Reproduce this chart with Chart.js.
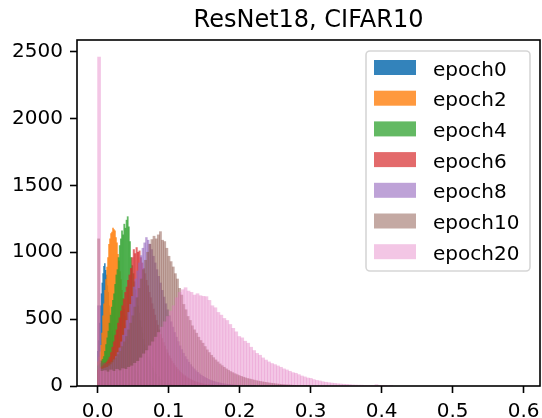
<!DOCTYPE html>
<html>
<head>
<meta charset="utf-8">
<script src="https://cdn.jsdelivr.net/npm/chart.js@4.4.1/dist/chart.umd.min.js"></script>
<style>
  html, body { margin: 0; padding: 0; background: #fff; }
</style>
</head>
<body>
<canvas id="chart" width="542" height="418"></canvas>
<script>
// ---------------- DATA ----------------
const titleText = "ResNet18, CIFAR10";
const labels = ["epoch0", "epoch2", "epoch4", "epoch6", "epoch8", "epoch10", "epoch20"];

// each histogram starts at 0, one bin width per series
const binWidths = [0.0012, 0.0014, 0.0016, 0.002, 0.0025, 0.003, 0.0042];

const epoch0 = [260,340,470,600,690,770,840,895,915,865,830,750,700,600,545,465,410,345,305,250,220,180,165,132,121,98,90,74,65,54,48,39,35,28,25,20,18,15,12,10,9,7,6,5,4,4,3,3,2,2,1,1];
const epoch2 = [180,215,255,305,395,525,615,715,795,890,960,1060,1100,1140,1150,1180,1170,1160,1110,1070,985,935,855,795,715,655,575,525,455,410,350,312,268,237,203,180,153,136,114,101,86,76,63,56,46,40,34,29,25,21,18,15,13,11,9,8,7,6,5,4,3,3,2,2,1,1];
const epoch4 = [150,160,170,185,200,220,260,310,360,410,470,530,590,640,690,760,830,870,960,1050,1100,1160,1130,1210,1180,1240,1266,1190,1080,960,900,840,780,720,660,600,545,490,440,395,350,310,275,245,215,190,168,148,130,114,100,88,77,67,58,50,43,37,32,27,23,20,17,14,12,10,8,7,6,5,4,3,3,2,2,1,1];
const epoch6 = [120,130,140,150,160,170,180,195,215,250,290,330,380,420,470,510,560,600,650,700,740,790,830,880,960,1020,990,1035,1000,1010,960,920,880,840,790,750,700,660,615,575,530,490,455,420,385,355,325,298,272,248,226,205,186,169,153,139,126,114,103,93,84,76,68,61,55,49,44,39,35,31,27,24,21,18,16,14,12,10,9,8,7,6,5,4,3,3,2,2,1,1];
const epoch8 = [600,130,125,130,135,140,150,160,175,195,220,250,285,330,380,430,490,550,610,670,740,800,860,920,975,1030,1070,1110,1090,1060,1020,970,920,870,820,770,715,665,615,570,525,480,440,400,365,332,300,272,245,220,198,178,160,143,128,114,102,91,81,72,64,57,50,44,39,35,31,27,24,21,18,16,14,12,10,9,8,7,6,5,4,4,3,3,2,2,1,1,1];
const epoch10 = [1100,190,175,170,165,170,180,195,210,235,260,295,330,370,420,470,525,590,660,730,800,870,940,1000,1060,1095,1120,1100,1130,1154,1090,1080,1030,970,930,890,840,800,730,680,610,570,520,490,450,420,395,365,340,320,295,270,250,230,212,195,180,165,152,140,128,118,108,100,92,85,78,72,66,61,56,52,48,44,40,37,34,31,28,26,23,21,19,17,15,13,12,10,9,8,7,6,5,4,4,3,2,2,1,1];
const epoch20 = [2460,110,115,105,120,110,125,115,130,125,140,150,170,185,210,240,265,300,330,365,400,440,480,520,560,600,660,700,720,735,710,700,680,690,675,670,668,640,600,585,550,530,505,490,460,431,405,370,360,335,320,290,265,244,230,210,194,180,168,160,150,140,128,120,110,100,95,85,75,68,60,57,48,42,38,32,28,25,22,20,17,15,13,12,10,8,7,6,6,5,4,3,3,10,2,1,1,0,1];

const counts = [epoch0, epoch2, epoch4, epoch6, epoch8, epoch10, epoch20];

const xTicks = [0, 0.1, 0.2, 0.3, 0.4, 0.5, 0.6];
const yTicks = [0, 500, 1000, 1500, 2000, 2500];

// tab10 colours, alpha as seen in the legend
const colors = [
  "rgba(31,119,180,0.91)",
  "rgba(255,127,14,0.80)",
  "rgba(44,160,44,0.74)",
  "rgba(214,39,40,0.69)",
  "rgba(148,103,189,0.61)",
  "rgba(140,86,75,0.51)",
  "rgba(227,119,194,0.42)"
];

// ---------------- PLUGINS ----------------
const frame = {
  id: "frame",
  afterDatasetsDraw(chart) {
    const { ctx, chartArea: a } = chart;
    ctx.save();
    ctx.strokeStyle = "#000";
    ctx.lineWidth = 1.6;
    ctx.strokeRect(a.left, a.top, a.right - a.left, a.bottom - a.top);
    ctx.restore();
  }
};

const topTitle = {
  id: "topTitle",
  afterDraw(chart) {
    const { ctx, chartArea: a } = chart;
    ctx.save();
    ctx.font = '24px "DejaVu Sans"';
    ctx.textAlign = "center";
    ctx.textBaseline = "alphabetic";
    ctx.fillStyle = "#000";
    ctx.fillText(titleText, (a.left + a.right) / 2, a.top - 13);
    ctx.restore();
  }
};

const boxLegend = {
  id: "boxLegend",
  afterDraw(chart) {
    const { ctx, chartArea: a } = chart;
    const x0 = a.right - 174, y0 = a.top + 11;
    ctx.save();
    ctx.beginPath();
    ctx.roundRect(x0, y0, 164, 220, 4);
    ctx.fillStyle = "rgba(255,255,255,0.8)";
    ctx.fill();
    ctx.strokeStyle = "#d6d6d6";
    ctx.lineWidth = 1.6;
    ctx.stroke();
    ctx.font = '20px "DejaVu Sans"';
    ctx.textBaseline = "alphabetic";
    chart.data.datasets.forEach((ds, i) => {
      const cy = y0 + 16.5 + i * 30.7;
      ctx.fillStyle = ds.backgroundColor;
      ctx.fillRect(x0 + 8, cy - 7.5, 42, 15);
      ctx.fillStyle = "#000";
      ctx.fillText(ds.label, x0 + 67, cy + 8);
    });
    ctx.restore();
  }
};

// ---------------- CHART ----------------
const tickFont = { family: "DejaVu Sans", size: 20 };

new Chart(document.getElementById("chart"), {
  type: "bar",
  data: {
    datasets: labels.map((label, i) => ({
      label: label,
      data: counts[i].map((c, j) => ({ x: (j + 0.5) * binWidths[i], y: c })),
      backgroundColor: colors[i],
      borderWidth: 0,
      grouped: false,
      order: labels.length - i,
      barThickness: ctx => {
        const s = ctx.chart.scales.x;
        return s.getPixelForValue(binWidths[ctx.datasetIndex]) - s.getPixelForValue(0);
      }
    }))
  },
  options: {
    responsive: false,
    animation: false,
    devicePixelRatio: 1,
    layout: { padding: { left: 0, right: 2, top: 40, bottom: 0 } },
    plugins: {
      legend: { display: false },
      title: { display: false },
      tooltip: { enabled: false }
    },
    scales: {
      x: {
        type: "linear",
        min: -0.029,
        max: 0.623,
        offset: false,
        afterBuildTicks: s => { s.ticks = xTicks.map(v => ({ value: v })); },
        afterFit: s => { s.height = 32; s.paddingLeft = 0; s.paddingRight = 0; },
        border: { display: false },
        grid: { drawOnChartArea: false, offset: false, tickLength: 7, tickWidth: 1.6, tickColor: "#000" },
        ticks: { padding: 7, color: "#000", font: tickFont, maxRotation: 0, autoSkip: false, callback: v => v.toFixed(1) }
      },
      y: {
        min: 0,
        max: 2587,
        afterBuildTicks: s => { s.ticks = yTicks.map(v => ({ value: v })); },
        afterFit: s => { s.width = 77; s.paddingTop = 0; s.paddingBottom = 0; },
        border: { display: false },
        grid: { drawOnChartArea: false, tickLength: 7, tickWidth: 1.6, tickColor: "#000" },
        ticks: { padding: 7, color: "#000", font: tickFont, callback: v => String(v) }
      }
    }
  },
  plugins: [frame, topTitle, boxLegend]
});
</script>
</body>
</html>
